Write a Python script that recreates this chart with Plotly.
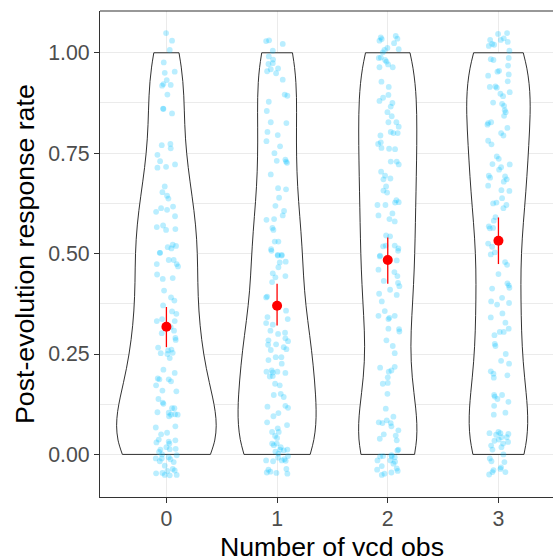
import numpy as np
import plotly.graph_objects as go

# ---------------- data ----------------
categories = [0, 1, 2, 3]
category_labels = ["0", "1", "2", "3"]

# jittered response rates (as displayed) and horizontal jitter offsets
g0_y = [1.049, 1.030, 1.007, 0.976, 0.950, 0.953, 0.932, 0.918, 0.922, 0.920,
        0.896, 0.861, 0.860, 0.849, 0.770, 0.773, 0.762, 0.746, 0.730, 0.716, 0.714,
        0.722, 0.667, 0.653, 0.644, 0.637, 0.604, 0.613, 0.609, 0.617, 0.593,
        0.566, 0.570, 0.559, 0.561, 0.502, 0.516, 0.522, 0.519, 0.513,
        0.502, 0.484, 0.484, 0.474, 0.474, 0.468, 0.448, 0.437, 0.439, 0.408,
        0.391, 0.383, 0.371, 0.356, 0.350, 0.332, 0.337, 0.332, 0.317, 0.302,
        0.308, 0.290, 0.285, 0.266, 0.252, 0.259, 0.261, 0.253, 0.250, 0.240,
        0.211, 0.203, 0.189, 0.187, 0.187, 0.182, 0.172, 0.159, 0.157, 0.138,
        0.129, 0.126, 0.105, 0.104, 0.115, 0.115, 0.095, 0.099, 0.100, 0.099,
        0.067, 0.070, 0.050, 0.054, 0.037, 0.030, 0.032, 0.027, 0.035, 0.018,
        0.012, 0.006, 0.000, 0.013, 0.014, -0.002, -0.010, -0.010, -0.017, -0.007,
        -0.012, -0.019, -0.028, -0.036, -0.040, -0.047, -0.046, -0.041, -0.051, -0.052, -0.051]
g0_dx = [-0.003, 0.051, 0.030, -0.024, -0.015, 0.075, 0.003, -0.039, -0.027, 0.039,
         0.009, -0.030, -0.027, 0.051, -0.042, 0.036, 0.039, -0.081, -0.057, -0.003, -0.081,
         0.078, -0.015, -0.036, 0.006, 0.018, -0.093, -0.048, 0.006, 0.060, 0.078,
         -0.087, -0.030, -0.003, 0.081, -0.060, 0.012, 0.057, 0.087, 0.045,
         -0.057, 0.021, 0.066, -0.087, 0.093, 0.105, -0.084, -0.033, 0.057, -0.021,
         0.042, 0.072, -0.030, 0.051, 0.090, -0.087, -0.039, 0.075, 0.039, -0.042,
         0.069, 0.081, 0.084, -0.075, -0.051, 0.015, 0.045, 0.057, 0.009, 0.030,
         -0.027, 0.075, -0.078, -0.063, 0.021, 0.042, -0.093, -0.036, 0.090, -0.072,
         -0.033, -0.027, -0.081, 0.021, 0.051, 0.072, 0.024, 0.042, 0.078, 0.102,
         -0.096, 0.081, -0.048, 0.006, -0.069, -0.090, 0.021, 0.027, 0.081, 0.000,
         -0.054, -0.066, -0.039, 0.030, 0.084, 0.093, -0.096, -0.042, -0.060, 0.021,
         0.036, 0.066, -0.015, 0.057, 0.075, -0.093, -0.036, 0.009, 0.093, 0.030, -0.015]

g1_y = [1.029, 1.031, 1.022, 1.005, 0.991, 0.983, 0.972, 0.974, 0.959, 0.954,
        0.961, 0.949, 0.933, 0.896, 0.893, 0.878, 0.855, 0.827, 0.825, 0.803,
        0.795, 0.780, 0.767, 0.750, 0.731, 0.734, 0.729, 0.726, 0.697, 0.663,
        0.660, 0.639, 0.619, 0.606, 0.595, 0.584, 0.586, 0.564, 0.559, 0.530,
        0.530, 0.511, 0.497, 0.497,
        0.507, 0.495, 0.495, 0.478, 0.480, 0.466, 0.451, 0.444, 0.441, 0.429,
        0.393, 0.391, 0.358, 0.342, 0.337, 0.327, 0.323, 0.308, 0.300, 0.303,
        0.284, 0.289, 0.282, 0.273, 0.274, 0.260, 0.267, 0.262, 0.235, 0.242,
        0.242, 0.226, 0.206, 0.209, 0.204, 0.206, 0.203, 0.194, 0.195, 0.176,
        0.172, 0.148, 0.151, 0.143, 0.119, 0.121, 0.116, 0.103, 0.095, 0.080,
        0.073, 0.056, 0.065, 0.056, 0.046, 0.041, 0.027, 0.023, 0.027, 0.018,
        0.012, 0.007, 0.010, 0.002, 0.012, -0.004, -0.012, -0.015, -0.017, -0.015,
        -0.016, -0.008, -0.038, -0.045, -0.043, -0.036, -0.048, -0.046]
g1_dx = [-0.099, -0.072, 0.051, -0.039, -0.075, -0.036, -0.078, -0.039, -0.057, -0.090,
         0.009, -0.009, 0.051, 0.069, 0.093, -0.075, -0.093, -0.057, 0.084, -0.087,
         0.006, -0.096, 0.027, -0.024, -0.003, 0.075, 0.081, 0.090, -0.057, 0.009,
         0.081, 0.018, -0.015, 0.063, 0.051, -0.096, -0.027, -0.042, -0.033, -0.021,
         0.012, -0.054, 0.006, 0.042,
         -0.051, 0.006, 0.042, 0.024, 0.078, 0.012, -0.039, 0.075, -0.015, -0.045,
         -0.090, -0.099, 0.081, -0.087, 0.096, -0.099, -0.039, -0.060, 0.009, 0.072,
         -0.078, 0.075, 0.099, -0.081, -0.009, -0.057, 0.060, 0.084, -0.078, -0.012,
         0.039, 0.042, -0.096, -0.048, -0.039, 0.003, 0.075, -0.066, -0.039, -0.018,
         0.024, -0.030, 0.033, 0.060, -0.087, 0.075, 0.099, 0.012, -0.033, -0.090,
         0.090, -0.045, 0.006, 0.015, -0.018, 0.000, -0.045, -0.030, -0.003, 0.033,
         0.027, -0.015, 0.060, 0.012, 0.093, 0.099, 0.066, -0.099, -0.036, 0.042,
         0.078, 0.009, -0.078, -0.093, -0.060, 0.084, 0.093, -0.006]

g2_y = [1.038, 1.042, 1.030, 1.034, 1.035, 1.024, 1.012, 1.009, 1.007, 1.001,
        0.988, 0.987, 0.982, 0.978, 0.964, 0.971, 0.964, 0.928, 0.915, 0.888,
        0.880, 0.895, 0.875, 0.866, 0.852, 0.842, 0.827, 0.827, 0.816, 0.800,
        0.800, 0.803, 0.794, 0.773, 0.777, 0.763, 0.761, 0.760, 0.729, 0.729,
        0.722, 0.704, 0.694, 0.685, 0.687, 0.667, 0.657, 0.652, 0.633, 0.628,
        0.627, 0.621, 0.621, 0.600, 0.595, 0.586, 0.580, 0.545, 0.543, 0.518,
        0.520, 0.513, 0.495, 0.520,
        0.493, 0.507, 0.483, 0.460, 0.454, 0.444, 0.432, 0.427, 0.419, 0.410,
        0.400, 0.381, 0.397, 0.357, 0.345, 0.337, 0.340, 0.345, 0.312, 0.306,
        0.313, 0.284, 0.270, 0.252, 0.216, 0.218, 0.206, 0.209, 0.192, 0.176,
        0.178, 0.151, 0.114, 0.094, 0.080, 0.078, 0.085, 0.078, 0.070, 0.060,
        0.047, 0.035, 0.039, 0.050, 0.012, 0.010, -0.002, -0.007, -0.005, -0.004,
        -0.015, -0.015, -0.018, -0.023, -0.029, -0.038, -0.035, -0.041, -0.045, -0.048,
        -0.051, -0.005]
g2_dx = [-0.063, 0.072, -0.075, -0.054, 0.087, 0.057, -0.003, 0.099, -0.030, -0.045,
         -0.063, -0.081, -0.024, -0.012, -0.075, 0.003, 0.045, -0.057, 0.009, -0.042,
         -0.075, 0.006, 0.042, 0.027, -0.003, 0.036, 0.006, 0.078, 0.099, 0.090,
         0.051, 0.027, -0.066, -0.087, -0.063, -0.057, 0.012, 0.066, 0.027, 0.081,
         0.099, -0.060, -0.024, -0.039, 0.024, -0.015, -0.039, -0.006, 0.078, 0.099,
         0.066, -0.093, -0.021, 0.042, -0.084, 0.015, 0.063, -0.015, 0.021, -0.042,
         0.063, 0.096, -0.069, -0.018,
         -0.072, 0.093, 0.081, -0.084, 0.060, 0.087, -0.036, 0.093, 0.105, 0.021,
         -0.078, -0.054, 0.081, -0.027, -0.084, 0.006, 0.015, 0.063, 0.102, 0.105,
         0.006, -0.012, 0.045, 0.063, -0.069, 0.063, 0.009, 0.033, 0.000, -0.045,
         0.000, -0.003, -0.018, 0.051, -0.081, -0.048, -0.009, 0.027, 0.033, 0.096,
         0.072, 0.081, -0.072, -0.036, 0.096, 0.087, 0.033, 0.063, -0.069, -0.042,
         -0.093, 0.024, 0.066, 0.051, -0.054, -0.096, 0.081, 0.090, 0.033, -0.030,
         -0.054, 0.036]

g3_y = [1.047, 1.049, 1.036, 1.032, 1.027, 1.032, 1.022, 1.020, 1.017, 1.005,
        0.984, 0.982, 0.987, 0.968, 0.953, 0.955, 0.943, 0.946, 0.916, 0.915,
        0.913, 0.929, 0.898, 0.892, 0.902, 0.876, 0.873, 0.868, 0.857, 0.852,
        0.843, 0.825, 0.821, 0.827, 0.813, 0.781, 0.772, 0.800, 0.794, 0.742,
        0.736, 0.723, 0.722, 0.715, 0.709, 0.694, 0.689, 0.692, 0.679, 0.685,
        0.669, 0.658, 0.656, 0.638, 0.625, 0.627, 0.621, 0.613, 0.591, 0.582,
        0.568, 0.563, 0.564, 0.525, 0.517,
        0.498, 0.503, 0.479, 0.472, 0.449, 0.426, 0.415, 0.421, 0.413, 0.390,
        0.381, 0.373, 0.377, 0.351, 0.341, 0.328, 0.313, 0.305, 0.305, 0.297,
        0.275, 0.270, 0.250, 0.233, 0.226, 0.207, 0.201, 0.191, 0.197, 0.148,
        0.148, 0.144, 0.138, 0.131, 0.121, 0.104, 0.099, 0.053, 0.056, 0.049,
        0.053, 0.051, 0.034, 0.022, 0.037, 0.043, 0.043, 0.027, 0.031, 0.018,
        0.012, -0.010, 0.000, -0.017, -0.019, -0.032, -0.039, -0.044, -0.050, -0.036,
        -0.044]
g3_dx = [-0.003, 0.078, 0.048, -0.075, 0.084, 0.021, -0.057, -0.039, -0.087, 0.099,
         -0.069, -0.045, 0.093, 0.087, -0.009, 0.006, -0.093, 0.093, -0.027, -0.078,
         -0.015, 0.084, 0.018, 0.042, 0.102, -0.048, 0.033, 0.051, 0.057, 0.066,
         0.051, -0.093, -0.099, -0.066, 0.081, -0.093, -0.063, 0.024, 0.045, -0.015,
         0.003, -0.054, 0.102, 0.024, 0.006, -0.087, -0.075, 0.060, 0.048, 0.075,
         -0.093, 0.027, 0.099, 0.033, -0.048, -0.018, 0.072, 0.045, -0.027, -0.042,
         -0.087, -0.078, -0.048, -0.093, -0.057,
         -0.069, -0.033, 0.060, 0.078, 0.000, 0.081, 0.099, 0.093, -0.057, 0.033,
         -0.066, -0.012, 0.096, 0.036, -0.069, 0.063, 0.093, 0.048, 0.012, -0.036,
         -0.033, -0.027, 0.066, 0.024, 0.096, -0.069, -0.045, -0.042, 0.081, -0.039,
         0.033, -0.033, -0.009, 0.090, -0.039, 0.063, -0.042, -0.081, 0.000, -0.021,
         0.018, 0.090, -0.036, -0.066, 0.003, 0.027, 0.075, 0.042, 0.087, 0.027,
         -0.054, -0.078, 0.045, -0.063, 0.054, 0.024, -0.045, -0.054, -0.084, 0.018,
         0.063]

# group means with interval bounds
mean_rate = [0.318, 0.370, 0.484, 0.532]
mean_low = [0.267, 0.321, 0.425, 0.474]
mean_high = [0.367, 0.425, 0.540, 0.590]

y_ticks = [0.0, 0.25, 0.5, 0.75, 1.0]
y_tick_labels = ["0.00", "0.25", "0.50", "0.75", "1.00"]
y_minor = [0.125, 0.375, 0.625, 0.875]

x_title = "Number of vcd obs"
y_title = "Post-evolution response rate"

# ---------------- figure ----------------
groups_y = [g0_y, g1_y, g2_y, g3_y]
groups_dx = [g0_dx, g1_dx, g2_dx, g3_dx]
violin_widths = [0.9, 0.705, 0.525, 0.572]

FONT = "Liberation Sans, Arial, Helvetica, sans-serif"

fig = go.Figure()


def nrd0(v):
    v = np.asarray(v)
    sd = v.std(ddof=1)
    iqr = np.subtract(*np.percentile(v, [75, 25]))
    lo = min(sd, iqr / 1.34) if iqr > 0 else sd
    return 0.9 * lo * len(v) ** (-0.2)


for cat, ys, w in zip(categories, groups_y, violin_widths):
    ys_clip = np.clip(ys, 0, 1)
    fig.add_trace(go.Violin(
        x=[cat] * len(ys), y=ys_clip,
        spanmode="manual", span=[0, 1],
        bandwidth=nrd0(ys_clip),
        scalemode="width", width=w,
        fillcolor="white", line=dict(color="#1a1a1a", width=0.9),
        points=False, box_visible=False, meanline_visible=False,
        hoverinfo="skip", showlegend=False,
    ))

for cat, ys, dxs in zip(categories, groups_y, groups_dx):
    n = min(len(ys), len(dxs))
    fig.add_trace(go.Scatter(
        x=[cat + d for d in dxs[:n]], y=ys[:n], mode="markers",
        marker=dict(size=5.8, color="rgba(0,191,255,0.27)", line=dict(width=0)),
        hoverinfo="skip", showlegend=False,
    ))

fig.add_trace(go.Scatter(
    x=categories, y=mean_rate, mode="markers",
    marker=dict(size=10, color="red", line=dict(width=0)),
    error_y=dict(type="data", symmetric=False,
                 array=[h - m for h, m in zip(mean_high, mean_rate)],
                 arrayminus=[m - l for m, l in zip(mean_rate, mean_low)],
                 color="red", thickness=1.3, width=0),
    hoverinfo="skip", showlegend=False,
))

fig.update_layout(
    width=553, height=559,
    margin=dict(l=100, r=0, t=11, b=62, pad=0),
    paper_bgcolor="white", plot_bgcolor="white",
    violinmode="overlay", violingap=0,
    font=dict(family=FONT, color="black"),
    showlegend=False,
)
fig.update_xaxes(
    range=[-0.6, 3.493],
    tickmode="array", tickvals=categories, ticktext=category_labels,
    showgrid=True, gridcolor="#EBEBEB", gridwidth=1.1, zeroline=False,
    showline=True, linecolor="#333333", linewidth=1.1, mirror=False,
    ticks="outside", ticklen=5, tickwidth=1.1, tickcolor="#333333",
    ticklabelstandoff=-3,
    tickfont=dict(size=21.3, color="#4D4D4D", family=FONT),
)
fig.update_yaxes(
    range=[-0.106, 1.104],
    tickmode="array", tickvals=y_ticks, ticktext=y_tick_labels,
    showgrid=True, gridcolor="#EBEBEB", gridwidth=1.1, zeroline=False,
    showline=True, linecolor="#333333", linewidth=1.1, mirror=False,
    ticks="outside", ticklen=5, tickwidth=1.1, tickcolor="#333333",
    tickfont=dict(size=21.3, color="#4D4D4D", family=FONT),
    minor=dict(tickmode="array", tickvals=y_minor, showgrid=True,
               gridcolor="#EBEBEB", gridwidth=0.55, ticks=""),
)

# top border of the panel (the right border lies outside the cropped picture)
fig.add_shape(type="line", xref="paper", yref="paper", x0=0, x1=1, y0=1, y1=1,
              line=dict(color="#333333", width=1.1), layer="above")

fig.add_annotation(text=x_title, xref="x", yref="paper", x=1.5, y=0,
                   xanchor="center", yanchor="middle", yshift=-50, showarrow=False,
                   font=dict(size=26.7, color="black", family=FONT))
fig.add_annotation(text=y_title, xref="paper", yref="paper", x=0, y=0.5,
                   xanchor="center", yanchor="middle", xshift=-75, textangle=-90,
                   showarrow=False, font=dict(size=26.7, color="black", family=FONT))

fig.write_html(
    "out.html",
    config={"displayModeBar": False},
    post_script="document.body.style.margin='0px';document.body.style.overflow='hidden';",
)
